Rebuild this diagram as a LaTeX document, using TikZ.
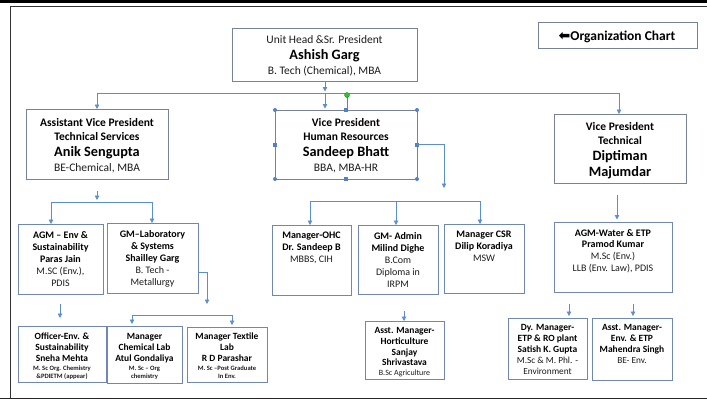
\documentclass[tikz,border=0pt]{standalone}
\usepackage{fontspec}
\setmainfont{Carlito}
\newfontfamily\symfont{DejaVu Sans}
\usetikzlibrary{arrows.meta}
\definecolor{boxc}{RGB}{112,136,176}
\definecolor{boxg}{RGB}{120,130,150}
\definecolor{linec}{RGB}{91,141,207}
\definecolor{handc}{RGB}{79,129,199}
\definecolor{txtreg}{RGB}{28,28,28}
\definecolor{rotg}{RGB}{40,200,40}
\tikzset{
  box/.style={draw=boxc, line width=0.9pt, anchor=north west, inner sep=0pt, outer sep=0pt},
  gbox/.style={box, draw=boxg},
  conn/.style={draw=linec, line width=0.8pt},
  arr/.style={conn, -{Triangle[width=4.5pt,length=4.5pt]}},
  txt/.style={inner sep=0pt, anchor=base},
  hcirc/.style={circle, fill=handc, inner sep=0pt, minimum size=4pt},
  hsq/.style={rectangle, fill=handc, inner sep=0pt, minimum size=4pt},
}
\newcommand\bx[6][box]{\node[#1, minimum width={(#5-#3)*1pt}, minimum height={(#6-#4)*1pt}] (#2) at (#3,#4) {};}
\newcommand\lines[3]{\foreach \ty/\tx [count=\i] in {#3} \node[txt] (#1-\i) at (#2,\ty) {\tx};}
% fonts
\newcommand\TB{\fontsize{11.5}{13}\selectfont\bfseries}
\newcommand\TR{\fontsize{11.5}{13}\selectfont\color{txtreg}}
\newcommand\TN{\fontsize{14.3}{16}\selectfont\bfseries}
\newcommand\MB{\fontsize{10}{12}\selectfont\bfseries}
\newcommand\MR{\fontsize{10}{12}\selectfont\color{txtreg}}
\newcommand\LB{\fontsize{9.5}{11}\selectfont\bfseries}
\newcommand\LR{\fontsize{9.3}{11}\selectfont\color{txtreg}}
\newcommand\LT{\fontsize{6.6}{7}\selectfont\bfseries\color{txtreg}}
\begin{document}
\begin{tikzpicture}[x=1pt,y=-1pt]
\useasboundingbox (0,0) rectangle (707,400);
% frame
\fill[black] (0,0) rectangle (707,2.5);
\draw[black!80, line width=0.8pt] (10.5,6) -- (707,6);
\draw[black!80, line width=1pt] (10.5,6) -- (10.5,398);
\draw[black!85, line width=1.6pt] (0,398.5) -- (707,398.5);

% boxes
\bx[gbox]{top}{232}{28}{417}{81}
\bx[gbox]{org}{538}{22}{697}{48}
\bx[gbox]{anik}{26}{109}{168}{179}
\bx[gbox]{sandeep}{275}{110}{417}{179}
\bx[gbox]{dipt}{554}{114}{686}{183}
\bx{paras}{18}{224}{103}{294}
\bx{shail}{107}{223}{198}{293}
\bx{ohc}{272}{225}{351}{295}
\bx{milind}{358}{225}{438}{294}
\bx{dilip}{444}{224}{524}{293}
\bx{pramod}{554}{222}{672}{292}
\bx{sneha}{18}{326}{106}{382}
\bx{atul}{107}{326}{182}{383}
\bx{rdp}{187}{327}{267}{382}
\bx{sanjay}{365}{321}{444}{379}
\bx{satish}{508}{318}{587}{379}
\bx{mahen}{592}{318}{672}{380}

% texts
\node[txt] (orgt) at (617,40) {{\symfont\fontsize{14}{14}\selectfont\bfseries ⬅}{\fontsize{13.5}{14}\selectfont\bfseries Organization Chart}};
\lines{tt}{324.5}{43.5/{\TR Unit Head \&Sr. President}, 59.5/{\TN Ashish Garg}, 74.5/{\TR B. Tech (Chemical), MBA}}
\lines{ta}{97}{126/{\TB Assistant Vice President}, 140/{\TB Technical Services}, 156.5/{\TN Anik Sengupta}, 171/{\TR BE-Chemical, MBA}}
\lines{ts}{346}{126/{\TB Vice President}, 140/{\TB Human Resources}, 156.5/{\TN Sandeep Bhatt}, 171/{\TR BBA, MBA-HR}}
\lines{td}{620}{130/{\TB Vice President}, 144/{\TB Technical}, 160/{\TN Diptiman}, 176.5/{\TN Majumdar}}

\lines{tp}{60.5}{238.5/{\MB AGM – Env \&}, 250.5/{\MB Sustainability}, 262.5/{\MB Paras Jain}, 274.5/{\MR M.SC (Env.),}, 286.5/{\MR PDIS}}
\lines{tg}{152.5}{237.5/{\MB GM–Laboratory}, 249.5/{\MB \& Systems}, 261.5/{\MB Shailley Garg}, 273.5/{\MR B. Tech -}, 285.5/{\MR Metallurgy}}
\lines{to}{311.5}{238.5/{\MB Manager-OHC}, 250.5/{\MB Dr. Sandeep B}, 262.5/{\MR MBBS, CIH}}
\lines{tm}{398}{239.5/{\MB GM- Admin}, 251.5/{\MB Milind Dighe}, 263.5/{\MR B.Com}, 275.5/{\MR Diploma in}, 287.5/{\MR IRPM}}
\lines{tc}{484}{237.5/{\MB Manager CSR}, 249.5/{\MB Dilip Koradiya}, 261.5/{\MR MSW}}
\lines{tw}{613}{236.5/{\MB AGM-Water \& ETP}, 247.5/{\MB Pramod Kumar}, 259.5/{\MR M.Sc (Env.)}, 271.5/{\MR LLB (Env. Law), PDIS}}

\lines{tn}{62}{339.5/{\LB Officer-Env. \&}, 350.5/{\LB Sustainability}, 361.5/{\LB Sneha Mehta}, 370/{\LT M. Sc Org. Chemistry}, 378.5/{\LT \&PDIETM (appear)}}
\lines{tl}{144.5}{339.5/{\LB Manager}, 350.5/{\LB Chemical Lab}, 361.5/{\LB Atul Gondaliya}, 370/{\LT M. Sc – Org}, 378.5/{\LT chemistry}}
\lines{tr}{227}{339.5/{\LB Manager Textile}, 350.5/{\LB Lab}, 361.5/{\LB R D Parashar}, 370/{\LT M. Sc –Post Graduate}, 378.5/{\LT In Env.}}
\lines{tj}{404.5}{333/{\LB Asst. Manager-}, 344/{\LB Horticulture}, 355/{\LB Sanjay}, 365.5/{\LB Shrivastava}, 375/{\fontsize{8}{9}\selectfont\color{txtreg}B.Sc Agriculture}}
\lines{tk}{547.5}{330.5/{\LB Dy. Manager-}, 341.5/{\LB ETP \& RO plant}, 352.5/{\LB Satish K. Gupta}, 363.5/{\LR M.Sc \& M. Phl. -}, 374.5/{\LR Environment}}
\lines{th}{632}{330.5/{\LB Asst. Manager-}, 341.5/{\LB Env. \& ETP}, 352.5/{\LB Mahendra Singh}, 363.5/{\LR BE- Env.}}

% connectors
\coordinate (busL) at (97,93);
\coordinate (busR) at (619,93);
\draw[arr] (top.south -| 325,0) -- (325,91.5);
\draw[conn] (busL) -- (busR);
\draw[arr] (busL) -- (anik.north -| busL);
\draw[arr] (325,93) -- (325,108.5);
\draw[arr] (busR) -- (dipt.north -| busR);
% selection handles on Sandeep box
\draw[handc, line width=0.8pt] (347,95) -- (sandeep.north -| 347,0);
\node[circle, fill=rotg, draw=rotg!60!black, line width=0.3pt, inner sep=0pt, minimum size=5pt] (rot) at (347,95) {};
\foreach \a [count=\k] in {north west,north east,south west,south east} \node[hcirc] (hc\k) at (sandeep.\a) {};
\foreach \a [count=\k] in {north,south,west,east} \node[hsq] (hs\k) at (sandeep.\a) {};
% Sandeep -> down
\coordinate (sdn) at (444,188);
\draw[arr] (sandeep.east) -- (sdn |- sandeep.east) -- (sdn);
% middle bus
\coordinate (mbL) at (310,201);
\coordinate (mbR) at (480,201);
\draw[conn] (mbL) -- (mbR);
\draw[arr] (mbL) -- (ohc.north -| mbL);
\draw[arr] (396,201) -- (milind.north -| 396,0);
\draw[arr] (mbR) -- (dilip.north -| mbR);
% Anik children
\draw[arr] (97,191) -- (97,200);
\coordinate (abL) at (51,202);
\coordinate (abR) at (152,202);
\draw[conn] (abL) -- (abR);
\draw[arr] (abL) -- (paras.north -| abL);
\draw[arr] (abR) -- (shail.north -| abR);
% Diptiman down
\draw[arr] (dipt.south -| 617,0) ++(0,12) -- (617,219.5);
% Shailley children
\coordinate (shd) at (207,304);
\draw[arr] (shail.east |- 0,272) -- (shd |- 0,272) -- (shd);
\coordinate (sbL) at (132,315);
\coordinate (sbR) at (232,315);
\draw[conn] (sbL) -- (sbR);
\draw[arr] (sbL) -- (132,324);
\draw[arr] (sbR) -- (232,325);
% Sneha
\draw[arr] (60,304) -- (60,318);
% Sanjay
\draw[arr] (404,311) -- (sanjay.north -| 404,0);
% Satish, Mahendra
\draw[arr] (569,304) -- (569,316);
\draw[arr] (633,304) -- (633,316);
\end{tikzpicture}
\end{document}
